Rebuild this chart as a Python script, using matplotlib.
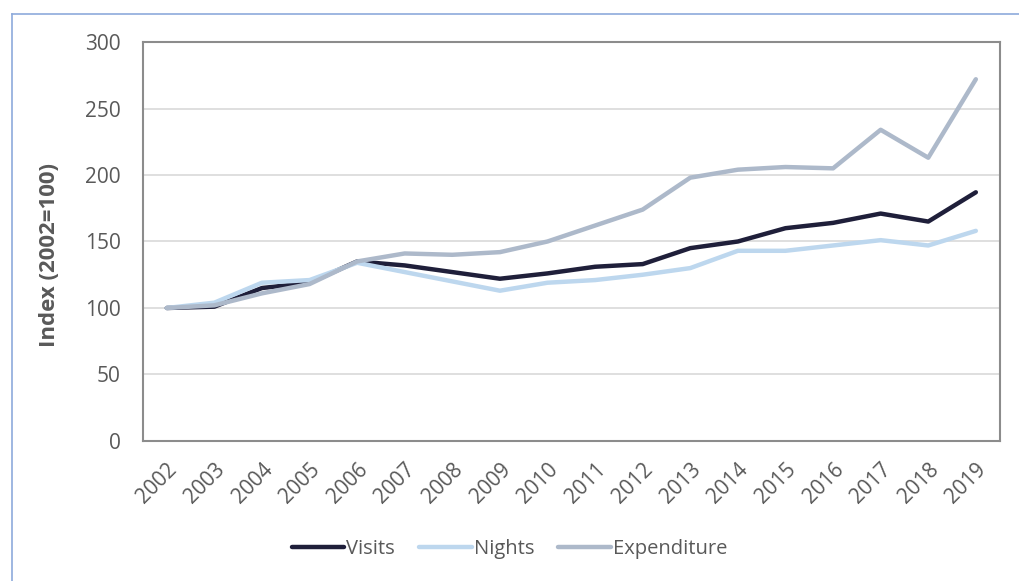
import matplotlib

matplotlib.use("Agg")

import matplotlib.pyplot as plt
from matplotlib.lines import Line2D

years = [str(y) for y in range(2002, 2020)]
visits = [100, 101, 115, 119, 135, 132, 127, 122, 126, 131, 133, 145, 150, 160, 164, 171, 165, 187]
nights = [100, 104, 119, 121, 134, 127, 120, 113, 119, 121, 125, 130, 143, 143, 147, 151, 147, 158]
expenditure = [100, 102, 111, 118, 135, 141, 140, 142, 150, 162, 174, 198, 204, 206, 205, 234, 213, 272]

series_names = ["Visits", "Nights", "Expenditure"]
series_colors = ["#1f1f3a", "#bdd7ee", "#adb9ca"]

plt.rcParams["font.family"] = ["Open Sans", "DejaVu Sans"]
text_color = "#595959"

fig = plt.figure(figsize=(10.19, 5.81), dpi=100)
ax = fig.add_axes([0.1403, 0.241, 0.8407, 0.6867])

x = list(range(len(years)))
for values, name, color in zip([visits, nights, expenditure], series_names, series_colors):
    ax.plot(x, values, color=color, linewidth=3.2, solid_capstyle="round",
            solid_joinstyle="round", label=name)

ax.set_ylim(0, 300)
ax.set_yticks(range(0, 301, 50))
ax.set_xlim(-0.5, len(years) - 0.5)
ax.set_xticks(x)
ax.set_xticklabels(years, rotation=45, ha="right", rotation_mode="anchor")
ax.tick_params(axis="both", length=0, labelsize=15, colors=text_color)
ax.tick_params(axis="x", pad=13)
ax.tick_params(axis="y", pad=16)
ax.grid(axis="y", color="#d9d9d9", linewidth=1.2)
ax.set_axisbelow(True)
for spine in ax.spines.values():
    spine.set_color("#8c8c8c")
    spine.set_linewidth(1.5)

ax.set_ylabel("Index (2002=100)", fontsize=16, fontweight="bold", color=text_color)
ax.yaxis.set_label_coords(-0.097, 0.466)

handles = [Line2D([0], [0], color=c, linewidth=3.2, solid_capstyle="round") for c in series_colors]
fig.legend(handles, series_names, loc="center", bbox_to_anchor=(0.5, 0.055), ncol=3,
           frameon=False, fontsize=14.5, labelcolor=text_color, handlelength=2.6,
           handletextpad=0.1, columnspacing=1.2)

# thin outer frame along the left and top edges
frame_color = "#8eaadb"
fig.add_artist(Line2D([0.0118, 0.0118], [0.0, 0.976], color=frame_color, linewidth=1.2))
fig.add_artist(Line2D([0.0118, 1.0], [0.976, 0.976], color=frame_color, linewidth=1.2))

fig.savefig("out.png", dpi=100)
